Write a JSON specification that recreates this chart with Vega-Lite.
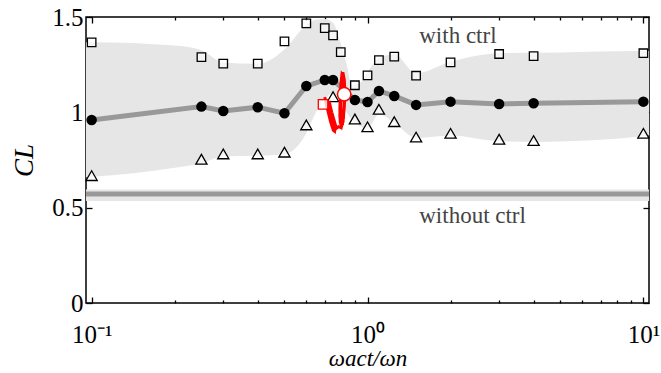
{
  "$schema": "https://vega.github.io/schema/vega-lite/v6.json",
  "width": 563,
  "height": 286,
  "autosize": {"type": "none"},
  "padding": {"left": 86, "top": 17, "right": 12, "bottom": 70},
  "config": {
    "view": {"stroke": "black", "strokeWidth": 1.5},
    "axis": {
      "domain": false, "grid": false,
      "labelFont": "Liberation Serif", "labelFontSize": 25, "labelColor": "black",
      "titleFont": "Liberation Serif", "titleColor": "black", "titleFontWeight": "normal",
      "tickColor": "black", "tickWidth": 1.3
    }
  },
  "datasets": {
    "band": [
      {"x": 0.0954, "lo": 0.66, "hi": 1.368},
      {"x": 0.1, "lo": 0.662, "hi": 1.368},
      {"x": 0.2, "lo": 0.71, "hi": 1.35},
      {"x": 0.25, "lo": 0.733, "hi": 1.325},
      {"x": 0.3, "lo": 0.768, "hi": 1.262},
      {"x": 0.4, "lo": 0.772, "hi": 1.255},
      {"x": 0.5, "lo": 0.78, "hi": 1.33},
      {"x": 0.6, "lo": 0.89, "hi": 1.458},
      {"x": 0.65, "lo": 1.0, "hi": 1.485},
      {"x": 0.7, "lo": 1.07, "hi": 1.49},
      {"x": 0.75, "lo": 1.1, "hi": 1.47},
      {"x": 0.8, "lo": 1.06, "hi": 1.36},
      {"x": 0.84, "lo": 1.0, "hi": 1.25},
      {"x": 0.88, "lo": 0.96, "hi": 1.14},
      {"x": 0.95, "lo": 0.925, "hi": 1.16},
      {"x": 1.0, "lo": 0.915, "hi": 1.21},
      {"x": 1.1, "lo": 0.99, "hi": 1.285},
      {"x": 1.25, "lo": 0.945, "hi": 1.305},
      {"x": 1.5, "lo": 0.865, "hi": 1.205},
      {"x": 2, "lo": 0.878, "hi": 1.265},
      {"x": 3, "lo": 0.848, "hi": 1.31},
      {"x": 4, "lo": 0.845, "hi": 1.312},
      {"x": 10, "lo": 0.875, "hi": 1.322},
      {"x": 10.48, "lo": 0.88, "hi": 1.322}
    ],
    "noctrl": [
      {"x": 0.0954, "lo": 0.535, "hi": 0.595, "y": 0.572},
      {"x": 10.48, "lo": 0.535, "hi": 0.595, "y": 0.572}
    ],
    "mean": [
      {"x": 0.1, "y": 0.960}, {"x": 0.25, "y": 1.030}, {"x": 0.3, "y": 1.007},
      {"x": 0.4, "y": 1.027}, {"x": 0.5, "y": 0.995}, {"x": 0.6, "y": 1.138},
      {"x": 0.7, "y": 1.170}, {"x": 0.75, "y": 1.170}, {"x": 0.9, "y": 1.065},
      {"x": 1.0, "y": 1.054}, {"x": 1.1, "y": 1.112}, {"x": 1.25, "y": 1.086},
      {"x": 1.5, "y": 1.039}, {"x": 2, "y": 1.056}, {"x": 3, "y": 1.044},
      {"x": 4, "y": 1.048}, {"x": 10, "y": 1.056}
    ],
    "max": [
      {"x": 0.1, "y": 1.367}, {"x": 0.25, "y": 1.290}, {"x": 0.3, "y": 1.255},
      {"x": 0.4, "y": 1.255}, {"x": 0.5, "y": 1.372}, {"x": 0.6, "y": 1.467},
      {"x": 0.7, "y": 1.442}, {"x": 0.75, "y": 1.404}, {"x": 0.8, "y": 1.316},
      {"x": 0.9, "y": 1.142}, {"x": 1.0, "y": 1.194}, {"x": 1.1, "y": 1.274},
      {"x": 1.25, "y": 1.292}, {"x": 1.5, "y": 1.192}, {"x": 2, "y": 1.262},
      {"x": 3, "y": 1.306}, {"x": 4, "y": 1.295}, {"x": 10, "y": 1.310}
    ],
    "min": [
      {"x": 0.1, "y": 0.668}, {"x": 0.25, "y": 0.754}, {"x": 0.3, "y": 0.782},
      {"x": 0.4, "y": 0.782}, {"x": 0.5, "y": 0.791}, {"x": 0.6, "y": 0.934},
      {"x": 0.75, "y": 1.082}, {"x": 0.9, "y": 0.965}, {"x": 1.0, "y": 0.924},
      {"x": 1.1, "y": 1.016}, {"x": 1.25, "y": 0.951}, {"x": 1.5, "y": 0.870},
      {"x": 2, "y": 0.890}, {"x": 3, "y": 0.859}, {"x": 4, "y": 0.852},
      {"x": 10, "y": 0.890}
    ],
    "traj": [
      {"i": 1, "x": 0.700, "y": 1.08}, {"i": 2, "x": 0.715, "y": 1.02},
      {"i": 3, "x": 0.735, "y": 0.95}, {"i": 4, "x": 0.752, "y": 0.905},
      {"i": 5, "x": 0.760, "y": 0.90}, {"i": 6, "x": 0.766, "y": 0.93},
      {"i": 7, "x": 0.742, "y": 1.0}, {"i": 8, "x": 0.725, "y": 1.06},
      {"i": 9, "x": 0.745, "y": 0.96}, {"i": 10, "x": 0.762, "y": 0.91},
      {"i": 11, "x": 0.785, "y": 0.925}, {"i": 12, "x": 0.80, "y": 0.92},
      {"i": 13, "x": 0.815, "y": 0.95}, {"i": 14, "x": 0.824, "y": 1.03},
      {"i": 15, "x": 0.828, "y": 1.10}, {"i": 16, "x": 0.824, "y": 1.17},
      {"i": 17, "x": 0.814, "y": 1.21}, {"i": 18, "x": 0.805, "y": 1.18},
      {"i": 19, "x": 0.798, "y": 1.10}, {"i": 20, "x": 0.794, "y": 1.02},
      {"i": 21, "x": 0.796, "y": 0.95}, {"i": 22, "x": 0.806, "y": 0.93},
      {"i": 23, "x": 0.818, "y": 0.97}, {"i": 24, "x": 0.825, "y": 1.06},
      {"i": 25, "x": 0.825, "y": 1.14}, {"i": 26, "x": 0.818, "y": 1.19},
      {"i": 27, "x": 0.808, "y": 1.20}, {"i": 28, "x": 0.801, "y": 1.15},
      {"i": 29, "x": 0.796, "y": 1.06}, {"i": 30, "x": 0.794, "y": 0.98},
      {"i": 31, "x": 0.80, "y": 0.94}, {"i": 32, "x": 0.812, "y": 0.94},
      {"i": 33, "x": 0.82, "y": 1.0}, {"i": 34, "x": 0.827, "y": 1.08},
      {"i": 35, "x": 0.82, "y": 1.16}, {"i": 36, "x": 0.812, "y": 1.2},
      {"i": 37, "x": 0.803, "y": 1.13}, {"i": 38, "x": 0.80, "y": 1.03},
      {"i": 39, "x": 0.803, "y": 0.96}
    ],
    "start": [{"x": 0.69, "y": 1.042}],
    "now": [{"x": 0.823, "y": 1.095}],
    "labels": [
      {"x": 1.54, "y": 1.362, "t": "with ctrl"},
      {"x": 1.54, "y": 0.422, "t": "without ctrl"}
    ]
  },
  "resolve": {"axis": {"x": "independent", "y": "independent"}},
  "layer": [
    {
      "data": {"name": "band"},
      "mark": {"type": "area", "interpolate": "monotone", "color": "#e6e6e6"},
      "encoding": {
        "x": {"field": "x", "type": "quantitative",
          "scale": {"type": "log", "domain": [0.0954, 10.48], "nice": false},
          "axis": {
            "orient": "bottom",
            "values": [0.1, 0.2, 0.3, 0.4, 0.5, 0.6, 0.7, 0.8, 0.9, 1, 2, 3, 4, 5, 6, 7, 8, 9, 10],
            "labelExpr": "datum.value == 0.1 ? '10⁻¹' : datum.value == 1 ? '10⁰' : datum.value == 10 ? '10¹' : ''",
            "tickSize": {"condition": {"test": "datum.value == 0.1 || datum.value == 1 || datum.value == 10", "value": -6}, "value": -3},
            "labelPadding": 25,
            "labelBaseline": "top",
            "title": "ωact/ωn",
            "titleFontSize": 23,
            "titleFontStyle": "italic",
            "titlePadding": 0
          }
        },
        "y": {"field": "lo", "type": "quantitative",
          "scale": {"domain": [0, 1.5], "nice": false},
          "axis": {
            "orient": "left",
            "values": [0, 0.5, 1, 1.5],
            "format": "~g",
            "tickSize": -6,
            "labelPadding": 9,
            "title": "CL",
            "titleFontSize": 27,
            "titleFontStyle": "italic",
            "titlePadding": 13
          }
        },
        "y2": {"field": "hi"}
      }
    },
    {
      "data": {"name": "noctrl"},
      "mark": {"type": "area", "color": "#e6e6e6"},
      "encoding": {
        "x": {"field": "x", "type": "quantitative",
          "axis": {
            "orient": "top",
            "values": [0.1, 0.2, 0.3, 0.4, 0.5, 0.6, 0.7, 0.8, 0.9, 1, 2, 3, 4, 5, 6, 7, 8, 9, 10],
            "labels": false, "title": null,
            "tickSize": {"condition": {"test": "datum.value == 0.1 || datum.value == 1 || datum.value == 10", "value": -6}, "value": -3}
          }
        },
        "y": {"field": "lo", "type": "quantitative",
          "axis": {"orient": "right", "values": [0, 0.5, 1, 1.5], "labels": false, "title": null, "tickSize": -6}
        },
        "y2": {"field": "hi"}
      }
    },
    {
      "data": {"name": "noctrl"},
      "mark": {"type": "line", "color": "#999999", "strokeWidth": 5},
      "encoding": {
        "x": {"field": "x", "type": "quantitative", "axis": null},
        "y": {"field": "y", "type": "quantitative", "axis": null}
      }
    },
    {
      "data": {"name": "mean"},
      "mark": {"type": "line", "color": "#999999", "strokeWidth": 5},
      "encoding": {
        "x": {"field": "x", "type": "quantitative", "axis": null},
        "y": {"field": "y", "type": "quantitative", "axis": null}
      }
    },
    {
      "data": {"name": "max"},
      "mark": {"type": "point", "shape": "square", "size": 72, "filled": true, "fill": "white", "fillOpacity": 0.6, "stroke": "black", "strokeWidth": 1.3},
      "encoding": {
        "x": {"field": "x", "type": "quantitative", "axis": null},
        "y": {"field": "y", "type": "quantitative", "axis": null}
      }
    },
    {
      "data": {"name": "min"},
      "mark": {"type": "point", "shape": "triangle-up", "size": 125, "filled": true, "fill": "white", "fillOpacity": 0.6, "stroke": "black", "strokeWidth": 1.3},
      "encoding": {
        "x": {"field": "x", "type": "quantitative", "axis": null},
        "y": {"field": "y", "type": "quantitative", "axis": null}
      }
    },
    {
      "data": {"name": "mean"},
      "mark": {"type": "point", "shape": "circle", "size": 110, "filled": true, "color": "black", "opacity": 1},
      "encoding": {
        "x": {"field": "x", "type": "quantitative", "axis": null},
        "y": {"field": "y", "type": "quantitative", "axis": null}
      }
    },
    {
      "data": {"name": "traj"},
      "mark": {"type": "line", "color": "#ff0000", "strokeWidth": 3},
      "encoding": {
        "x": {"field": "x", "type": "quantitative", "axis": null},
        "y": {"field": "y", "type": "quantitative", "axis": null},
        "order": {"field": "i", "type": "quantitative"}
      }
    },
    {
      "data": {"name": "start"},
      "mark": {"type": "point", "shape": "square", "size": 90, "filled": true, "fill": "white", "fillOpacity": 0.8, "stroke": "#ff0000", "strokeWidth": 1.3},
      "encoding": {
        "x": {"field": "x", "type": "quantitative", "axis": null},
        "y": {"field": "y", "type": "quantitative", "axis": null}
      }
    },
    {
      "data": {"name": "now"},
      "mark": {"type": "point", "shape": "circle", "size": 180, "filled": true, "fill": "white", "stroke": "#ff0000", "strokeWidth": 1.5, "opacity": 1},
      "encoding": {
        "x": {"field": "x", "type": "quantitative", "axis": null},
        "y": {"field": "y", "type": "quantitative", "axis": null}
      }
    },
    {
      "data": {"name": "labels"},
      "mark": {"type": "text", "align": "left", "baseline": "alphabetic", "font": "Liberation Serif", "fontSize": 23, "color": "#444444"},
      "encoding": {
        "x": {"field": "x", "type": "quantitative", "axis": null},
        "y": {"field": "y", "type": "quantitative", "axis": null},
        "text": {"field": "t"}
      }
    }
  ]
}
